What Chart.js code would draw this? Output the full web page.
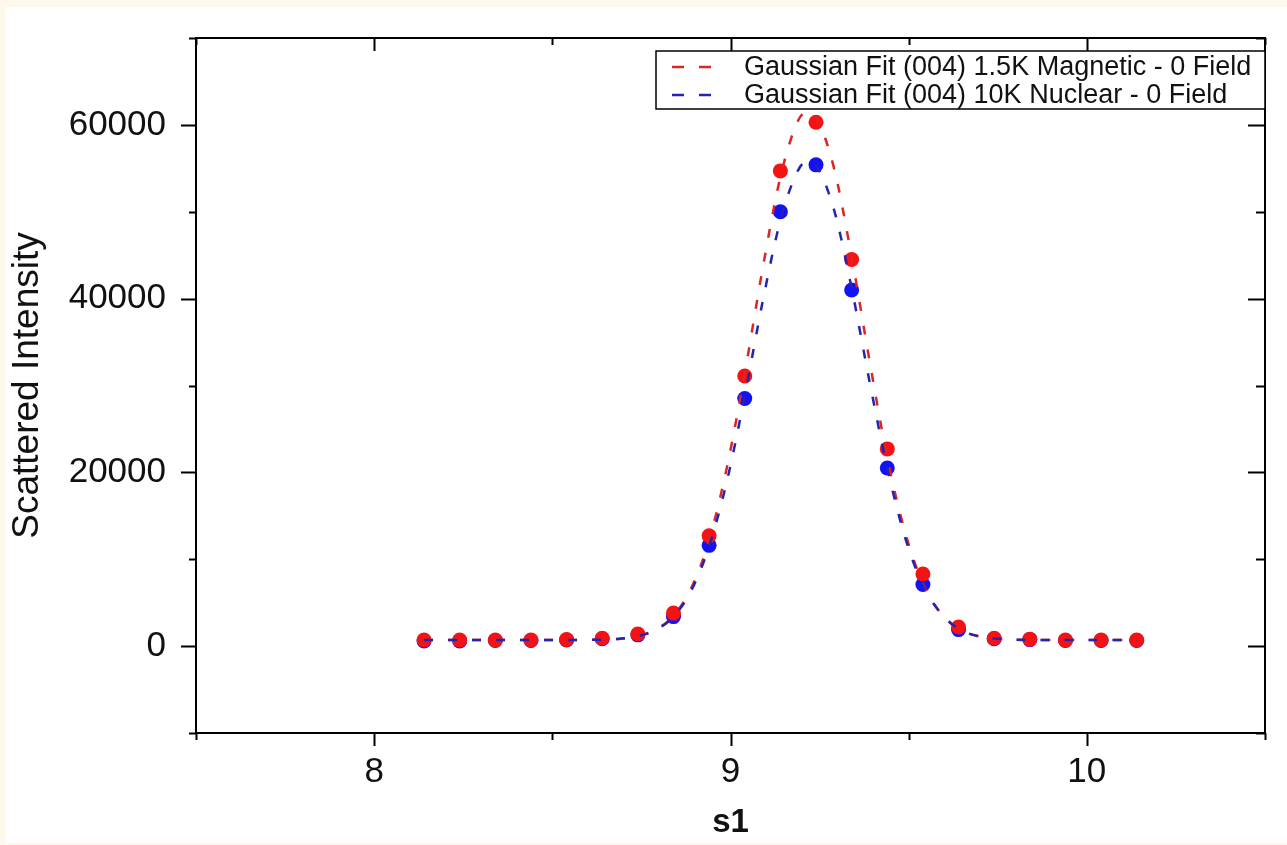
<!DOCTYPE html>
<html>
<head>
<meta charset="utf-8">
<script src="https://cdn.jsdelivr.net/npm/chart.js"></script>
<style>
  html, body { margin: 0; padding: 0; background: #fdf8ec; }
  canvas { display: block; }
</style>
</head>
<body>
<canvas id="chart" width="1287" height="845"></canvas>
<script>
// measured points (s1 positions and intensities)
const s1Points = [8.14, 8.24, 8.34, 8.44, 8.54, 8.64, 8.74, 8.84, 8.94, 9.04, 9.14,
                  9.24, 9.34, 9.44, 9.54, 9.64, 9.74, 9.84, 9.94, 10.04, 10.14];
const magnetic15K = [700, 700, 700, 700, 750, 900, 1400, 3800, 12700, 31100, 54700,
                     60300, 44500, 22700, 8300, 2200, 900, 800, 700, 700, 700];
const nuclear10K = [600, 600, 650, 650, 700, 850, 1300, 3400, 11600, 28500, 50000,
                    55400, 41000, 20500, 7100, 1900, 850, 750, 650, 650, 650];

// gaussian fit curves
const fitS1 = [8.14, 8.39, 8.64, 8.69, 8.74, 8.79, 8.84, 8.89, 8.94, 8.99, 9.04, 9.09, 9.14, 9.19, 9.215,
               9.24, 9.29, 9.34, 9.39, 9.44, 9.49, 9.54, 9.59, 9.64, 9.69, 9.74, 9.79, 9.89, 10.14];
const fitMagnetic = [700, 700, 750, 850, 1150, 1900, 3500, 6700, 12200, 20600, 31400, 43400, 54000, 60500, 61500,
                     60900, 55100, 44800, 32900, 21700, 13100, 7200, 3800, 2000, 1200, 870, 750, 700, 700];
const fitNuclear = [700, 700, 750, 860, 1150, 1860, 3400, 6400, 11500, 19000, 28800, 39600, 49000, 54800, 55800,
                    55300, 50300, 41200, 30500, 20500, 12500, 7000, 3800, 2000, 1200, 890, 760, 700, 700];

const legendLabels = ['Gaussian Fit (004) 1.5K Magnetic - 0 Field', 'Gaussian Fit (004) 10K Nuclear - 0 Field'];
const xTickLabels = [8, 9, 10];
const yTickLabels = [0, 20000, 40000, 60000];

const FONT = '"Liberation Sans", Arial, sans-serif';

function pts(xs, ys) {
  return xs.map((x, i) => ({ x: x, y: ys[i] }));
}

// cream border with white page behind the plot
const pageBg = {
  id: 'pageBg',
  beforeDraw(chart) {
    const ctx = chart.ctx;
    ctx.save();
    ctx.fillStyle = '#fdf8ec';
    ctx.fillRect(0, 0, chart.width, chart.height);
    ctx.fillStyle = '#ffffff';
    ctx.fillRect(5, 7, chart.width - 5, chart.height - 9);
    ctx.restore();
  }
};

// frame box, inward/outward ticks, and the boxed legend
const frameAndLegend = {
  id: 'frameAndLegend',
  afterDraw(chart) {
    const { ctx, chartArea: a, scales: { x, y } } = chart;
    ctx.save();
    ctx.strokeStyle = '#000';
    ctx.lineWidth = 2;
    ctx.strokeRect(a.left, a.top, a.right - a.left, a.bottom - a.top);

    ctx.beginPath();
    y.ticks.forEach(t => {
      const py = Math.round(y.getPixelForValue(t.value)) + 0.5;
      const major = t.value % 20000 === 0;
      ctx.moveTo(a.left - (major ? 15 : 7), py);
      ctx.lineTo(a.left, py);
      ctx.moveTo(a.right, py);
      ctx.lineTo(a.right - (major ? 17 : 9), py);
    });
    x.ticks.forEach(t => {
      const px = Math.round(x.getPixelForValue(t.value)) + 0.5;
      const major = Math.abs(t.value - Math.round(t.value)) < 1e-6;
      ctx.moveTo(px, a.bottom);
      ctx.lineTo(px, a.bottom + (major ? 13 : 7));
      ctx.moveTo(px, a.top);
      ctx.lineTo(px, a.top + (major ? 13 : 7));
    });
    ctx.stroke();

    // legend box
    const lx = 656, ly = 51, lw = a.right - lx, lh = 58;
    ctx.fillStyle = '#fff';
    ctx.fillRect(lx, ly, lw, lh);
    ctx.lineWidth = 1.5;
    ctx.strokeRect(lx, ly, lw, lh);

    const fits = [chart.data.datasets[1], chart.data.datasets[0]];
    ctx.font = '27px ' + FONT;
    ctx.textBaseline = 'middle';
    ctx.fillStyle = '#111';
    fits.forEach((ds, i) => {
      const cy = ly + 16 + i * 28;
      ctx.save();
      ctx.strokeStyle = ds.borderColor;
      ctx.lineWidth = 2.5;
      ctx.setLineDash([12, 15]);
      ctx.beginPath();
      ctx.moveTo(672, cy);
      ctx.lineTo(718, cy);
      ctx.stroke();
      ctx.restore();
      ctx.fillText(legendLabels[i], 744, cy + 1);
    });
    ctx.restore();
  }
};

new Chart(document.getElementById('chart'), {
  type: 'scatter',
  data: {
    datasets: [
      {
        label: legendLabels[1],
        data: pts(fitS1, fitNuclear),
        showLine: true,
        borderColor: '#2323b4',
        borderWidth: 2.5,
        borderDash: [9, 15],
        cubicInterpolationMode: 'monotone',
        pointRadius: 0,
        order: 0
      },
      {
        label: legendLabels[0],
        data: pts(fitS1, fitMagnetic),
        showLine: true,
        borderColor: '#e02424',
        borderWidth: 2.5,
        borderDash: [9, 15],
        cubicInterpolationMode: 'monotone',
        pointRadius: 0,
        order: 1
      },
      {
        label: '1.5K Magnetic',
        data: pts(s1Points, magnetic15K),
        showLine: false,
        pointRadius: 7.5,
        pointBackgroundColor: '#f41212',
        pointBorderWidth: 0,
        order: 2
      },
      {
        label: '10K Nuclear',
        data: pts(s1Points, nuclear10K),
        showLine: false,
        pointRadius: 7.5,
        pointBackgroundColor: '#1212f4',
        pointBorderWidth: 0,
        order: 3
      }
    ]
  },
  options: {
    responsive: false,
    animation: false,
    layout: { padding: { top: 38, right: 22, left: 0, bottom: 0 } },
    plugins: { legend: { display: false }, tooltip: { enabled: false } },
    scales: {
      x: {
        type: 'linear',
        min: 7.5,
        max: 10.5,
        afterFit(s) { s.height = 112; s.paddingLeft = 0; s.paddingRight = 0; },
        grid: { display: false, drawTicks: false },
        border: { display: false },
        ticks: {
          stepSize: 0.5,
          autoSkip: false,
          maxRotation: 0,
          padding: 18,
          color: '#111',
          font: { family: FONT, size: 35 },
          callback: v => xTickLabels.includes(v) ? String(v) : ''
        },
        title: {
          display: true,
          text: 's1',
          color: '#111',
          font: { family: FONT, size: 33, weight: 'bold' },
          padding: { top: 0, bottom: 2 }
        }
      },
      y: {
        type: 'linear',
        min: -10000,
        max: 70000,
        afterFit(s) { s.width = 196; s.paddingTop = 0; s.paddingBottom = 0; },
        grid: { display: false, drawTicks: false },
        border: { display: false },
        ticks: {
          stepSize: 10000,
          autoSkip: false,
          padding: 30,
          color: '#111',
          font: { family: FONT, size: 35 },
          callback: v => yTickLabels.includes(v) ? String(v) : ''
        },
        title: {
          display: true,
          text: 'Scattered Intensity',
          color: '#111',
          font: { family: FONT, size: 37 },
          padding: { top: 6, bottom: 0 }
        }
      }
    }
  },
  plugins: [pageBg, frameAndLegend]
});
</script>
</body>
</html>
